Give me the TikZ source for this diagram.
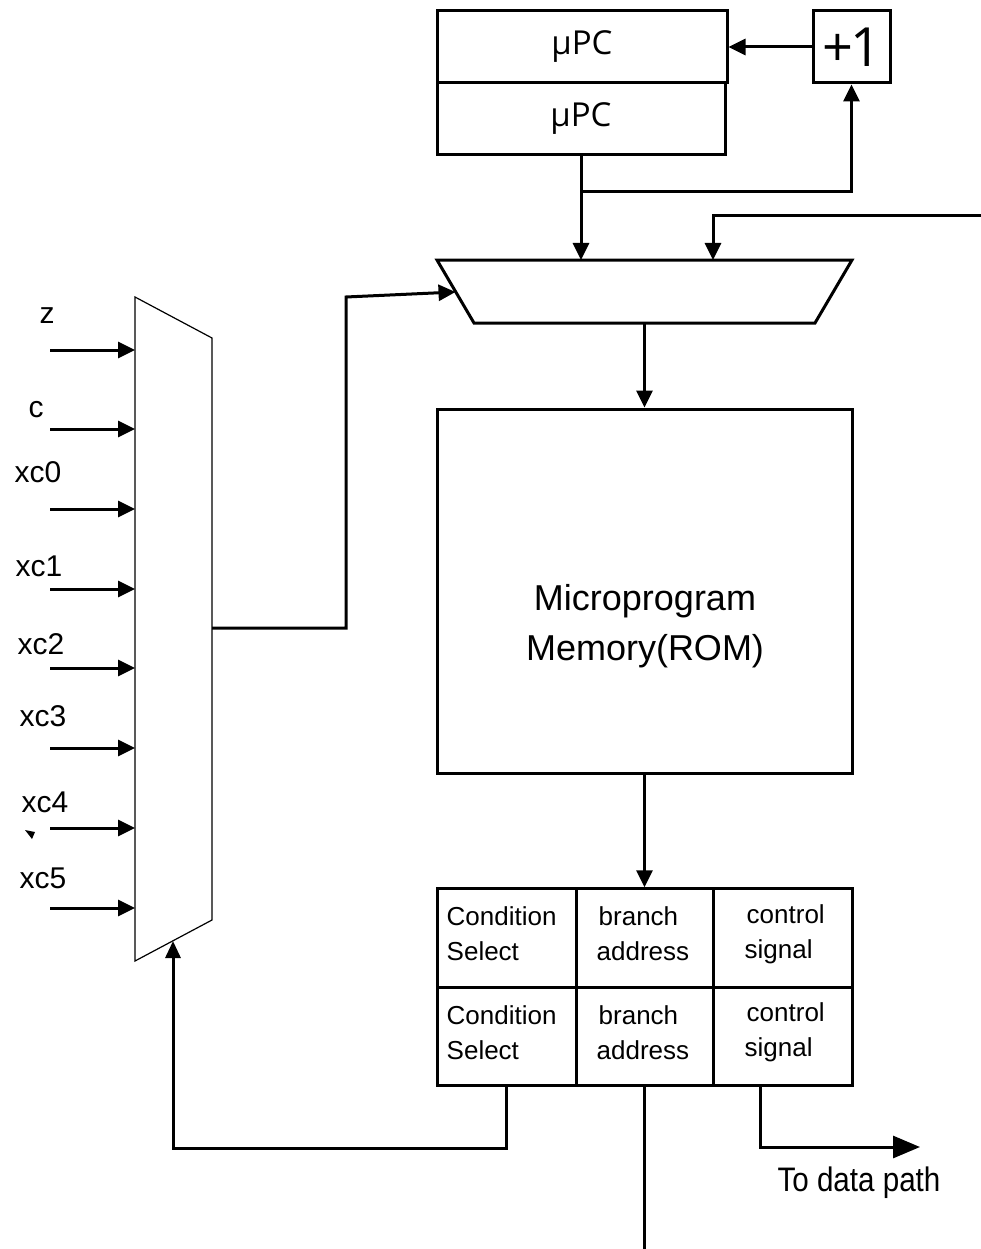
\documentclass[tikz,border=0pt]{standalone}
\usepackage{fontspec}
\setmainfont{Liberation Sans}
\newfontfamily\pcfont{Open Sans}
\usetikzlibrary{arrows.meta}
\begin{document}
\begin{tikzpicture}[x=1pt,y=-1pt,
  wire/.style={line width=3pt},
  arr/.style={wire,-{Triangle[length=17pt,width=16pt]}},
  bigarr/.style={wire,-{Triangle[length=27pt,width=22pt]}},
  box/.style={draw,line width=3pt,inner sep=0pt},
  pcbox/.style={box,minimum width=288pt,minimum height=72pt,font=\pcfont\fontsize{33}{38}\selectfont},
  cell/.style={box,minimum width=138pt,minimum height=98.5pt},
  celltext/.style={anchor=west,align=left,inner sep=0pt,font=\fontsize{26}{35}\selectfont,yshift=4pt},
  lab/.style={inner sep=0pt,font=\fontsize{30}{34}\selectfont}
 ]
\useasboundingbox (0,0) rectangle (981,1249);

% micro program counter pair and incrementer
\node[pcbox,minimum width=290pt] (pcA) at (582,47) {µPC};
\node[pcbox] (pcB) at (581,119) {µPC};
\node[box,minimum width=77pt,minimum height=72pt,font=\pcfont\fontsize{54}{58}\selectfont] (plusone) at (851.5,47) {+\kern-3pt1};

% address multiplexer (trapezoid)
\coordinate (mTL) at (437,260);
\coordinate (mTR) at (852,260);
\coordinate (mBR) at (815,323);
\coordinate (mBL) at (474,323);
\draw[line width=3pt,line join=miter] (mTL) -- (mTR) -- (mBR) -- (mBL) -- cycle;
\coordinate (muxin1) at (581,260);
\coordinate (muxin2) at (713,260);
\coordinate (muxinL) at (455.5,292);
\coordinate (muxout) at (644.5,323);

% microprogram memory
\node[box,minimum width=415pt,minimum height=364pt] (rom) at (644.5,591) {};
\node[align=center,inner sep=0pt,font=\fontsize{36}{50}\selectfont] (romtext) at (645,626) {Microprogram\\Memory(ROM)};

% microinstruction register fields
\node[cell,minimum width=139pt] (c11) at (506.5,938) {};
\node[cell,minimum width=137pt] (c12) at (644.5,938) {};
\node[cell,minimum width=139pt] (c13) at (782.5,938) {};
\node[cell,minimum width=139pt] (c21) at (506.5,1036.5) {};
\node[cell,minimum width=137pt] (c22) at (644.5,1036.5) {};
\node[cell,minimum width=139pt] (c23) at (782.5,1036.5) {};
\node[celltext] (t11) at ([xshift=11pt]c11.west) {Condition\\Select};
\node[celltext] (t12) at ([xshift=22pt]c12.west) {\hspace*{2pt}branch\\address};
\node[celltext] (t13) at ([xshift=33pt]c13.west) {\hspace*{2pt}control\\signal};
\node[celltext] (t21) at ([xshift=11pt]c21.west) {Condition\\Select};
\node[celltext] (t22) at ([xshift=22pt]c22.west) {\hspace*{2pt}branch\\address};
\node[celltext] (t23) at ([xshift=33pt]c23.west) {\hspace*{2pt}control\\signal};

% condition multiplexer
\coordinate (lTL) at (135,297);
\coordinate (lTR) at (212,338);
\coordinate (lBR) at (212,920);
\coordinate (lBL) at (135,961);
\draw[line width=1.2pt] (lTL) -- (lTR) -- (lBR) -- (lBL) -- cycle;
\coordinate (lmout) at (212,628);
\coordinate (fbin) at (173,941);

% condition inputs
\foreach \n/\yy in {z/350,c/429,x0/509,x1/589,x2/668,x3/748,x4/828,x5/908}{
  \coordinate (condin-\n) at (135,\yy);
  \coordinate (condsrc-\n) at (50,\yy);
  \draw[arr] (condsrc-\n) -- (condin-\n);
}
\node[lab] (lz) at (47,316) {z};
\node[lab] (lc) at (36,410) {c};
\node[lab] (lx0) at (38,472) {xc0};
\node[lab] (lx1) at (39,566) {xc1};
\node[lab] (lx2) at (41,644) {xc2};
\node[lab] (lx3) at (43,716) {xc3};
\node[lab] (lx4) at (45,802) {xc4};
\node[lab] (lx5) at (43,878) {xc5};
\fill (25,830) -- (35,832) -- (32,839) -- cycle;

% connections
\draw[arr] (plusone.west) -- (pcA.east);
\draw[arr] (pcB.south) -- (muxin1);
\coordinate (split) at ([yshift=-35pt]pcB.south);
\draw[arr] (split) -| (plusone.south);
\coordinate (ext) at (981,216);
\draw[arr] (ext) -| (muxin2);
\draw[arr] (lmout) -- (346,628) -- (346,297) -- (muxinL);
\draw[arr] (muxout) -- (rom.north);
\draw[arr] (rom.south) -- (c12.north);
\coordinate (bout) at (644.5,1249);
\draw[wire] (c22.south) -- (bout);
\draw[wire,-{Triangle[length=17pt,width=15pt]}] (c21.south) -- ++(0,61) -| (fbin);
\coordinate (dp) at (920,1147);
\draw[bigarr] ([xshift=-22.5pt]c23.south) |- (dp);
\node[inner sep=0pt,font=\fontsize{34}{38}\selectfont,xscale=0.87] (dptext) at (859,1183) {To data path};
\end{tikzpicture}
\end{document}
